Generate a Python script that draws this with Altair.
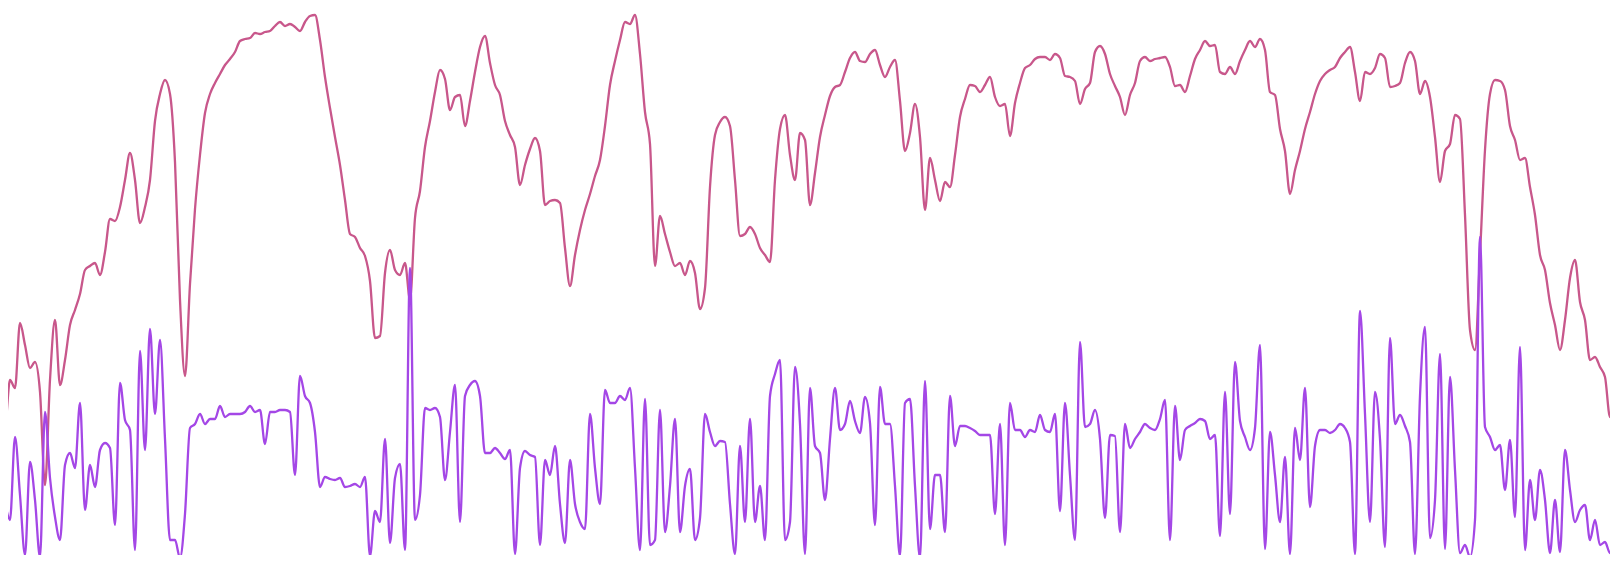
import altair as alt
import pandas as pd

# sample positions (time steps, evenly spaced)
step_positions = list(range(0, 1620, 5))

# upper series (larger number = lower on the chart)
pink_series = [
    417, 425, 380, 388, 323, 345, 368, 362, 392, 485,
    380, 320, 385, 360, 325, 310, 294, 270, 266, 263,
    275, 252, 219, 221, 207, 180, 153, 180, 223, 207,
    180, 121, 94, 80, 94, 162, 300, 376, 284, 209,
    155, 113, 94, 83, 74, 65, 59, 52, 41, 39,
    38, 33, 34, 32, 31, 26, 22, 26, 24, 27,
    31, 22, 16, 15, 40, 77, 108, 137, 165, 200,
    234, 237, 248, 256, 281, 338, 336, 273, 250, 270,
    275, 263, 300, 218, 191, 147, 121, 92, 70, 79,
    110, 97, 95, 126, 101, 72, 47, 36, 63, 85,
    95, 121, 135, 147, 185, 165, 149, 138, 151, 205,
    201, 200, 203, 248, 286, 255, 230, 210, 194, 176,
    160, 126, 85, 61, 40, 22, 24, 15, 54, 112,
    144, 266, 216, 234, 252, 266, 263, 275, 261, 273,
    309, 288, 187, 135, 122, 117, 126, 180, 236, 234,
    227, 234, 248, 255, 262, 180, 129, 115, 155, 180,
    133, 140, 205, 173, 137, 115, 96, 87, 85, 72,
    58, 52, 61, 62, 54, 50, 65, 77, 67, 60,
    101, 151, 133, 104, 137, 210, 158, 180, 201, 182,
    187, 155, 117, 99, 85, 86, 92, 85, 77, 97,
    106, 104, 136, 103, 83, 68, 65, 59, 57, 57,
    60, 54, 58, 76, 77, 81, 104, 89, 83, 52,
    46, 54, 74, 86, 97, 115, 95, 83, 61, 57,
    61, 59, 58, 57, 67, 86, 85, 92, 76, 59,
    50, 41, 46, 45, 72, 74, 67, 74, 61, 50,
    41, 47, 39, 50, 92, 95, 129, 151, 194, 170,
    151, 129, 112, 94, 81, 74, 70, 67, 58, 52,
    47, 72, 101, 72, 74, 68, 54, 58, 87, 86,
    83, 63, 52, 61, 94, 81, 97, 137, 182, 151,
    144, 115, 119, 215, 330, 350, 255, 150, 94, 80,
    81, 90, 126, 140, 160, 158, 187, 215, 255, 270,
    303, 325, 350, 320, 278, 260, 302, 320, 360, 357,
    367, 377, 417, 393,
]

# lower series
purple_series = [
    477, 503, 520, 437, 495, 555, 462, 500, 557, 412,
    478, 517, 540, 465, 453, 468, 403, 510, 465, 487,
    450, 443, 448, 525, 383, 420, 430, 550, 351, 450,
    329, 414, 340, 439, 540, 540, 558, 514, 428, 424,
    414, 424, 419, 419, 406, 417, 414, 414, 414, 412,
    406, 412, 410, 444, 412, 412, 410, 410, 412, 475,
    376, 396, 403, 432, 487, 477, 479, 480, 478, 487,
    486, 484, 487, 477, 556, 511, 522, 439, 543, 478,
    464, 550, 268, 520, 495, 408, 410, 408, 417, 480,
    432, 385, 522, 396, 385, 381, 396, 453, 453, 448,
    453, 459, 450, 554, 468, 451, 455, 457, 545, 460,
    475, 446, 504, 543, 460, 504, 522, 529, 414, 468,
    504, 390, 403, 403, 396, 400, 388, 468, 550, 399,
    545, 540, 410, 532, 486, 419, 532, 486, 469, 540,
    518, 414, 432, 446, 441, 442, 504, 554, 446, 522,
    419, 522, 486, 540, 396, 374, 360, 540, 522, 367,
    424, 554, 388, 446, 453, 500, 439, 388, 430, 424,
    401, 421, 433, 397, 423, 525, 387, 424, 424, 486,
    556, 403, 399, 486, 558, 381, 529, 475, 475, 532,
    396, 446, 426, 426, 428, 431, 435, 435, 435, 514,
    424, 545, 403, 430, 430, 437, 430, 432, 415, 430,
    432, 414, 511, 403, 475, 540, 342, 427, 424, 410,
    439, 518, 435, 436, 532, 424, 448, 439, 432, 424,
    428, 430, 419, 400, 540, 406, 460, 430, 426, 423,
    419, 421, 439, 435, 536, 392, 514, 362, 421, 437,
    450, 428, 345, 549, 432, 475, 522, 457, 554, 428,
    460, 388, 507, 446, 430, 430, 433, 430, 424, 428,
    442, 554, 311, 414, 522, 392, 439, 547, 338, 424,
    415, 426, 442, 554, 396, 327, 538, 500, 354, 549,
    377, 470, 553, 545, 557, 520, 237, 427, 437, 450,
    445, 490, 440, 517, 347, 550, 480, 520, 470, 500,
    553, 500, 552, 450, 490, 522, 510, 505, 540, 520,
    545, 542, 553, 515,
]

series_colors = ["#c8578b", "#a447e6"]

assert len(pink_series) == len(step_positions)
assert len(purple_series) == len(step_positions)

df_pink = pd.DataFrame({"t": step_positions, "v": pink_series})
df_purple = pd.DataFrame({"t": step_positions, "v": purple_series})

x_enc = alt.X("t:Q", scale=alt.Scale(domain=[8, 1610], nice=False, zero=False), axis=None)
y_enc = alt.Y("v:Q", scale=alt.Scale(domain=[8, 555], reverse=True, nice=False, zero=False), axis=None)

pink_line = alt.Chart(df_pink).mark_line(
    color=series_colors[0], strokeWidth=2.3, clip=True, strokeJoin="round",
    interpolate="monotone",
).encode(x=x_enc, y=y_enc)

purple_line = alt.Chart(df_purple).mark_line(
    color=series_colors[1], strokeWidth=2.3, clip=True, strokeJoin="round",
    interpolate="monotone",
).encode(x=x_enc, y=y_enc)

chart = alt.layer(pink_line, purple_line).properties(
    width=1602,
    height=547,
    autosize=alt.AutoSizeParams(type="none"),
    padding=0,
).configure_view(stroke=None)

chart.save("out.html", embed_options={"renderer": "svg", "actions": False})
